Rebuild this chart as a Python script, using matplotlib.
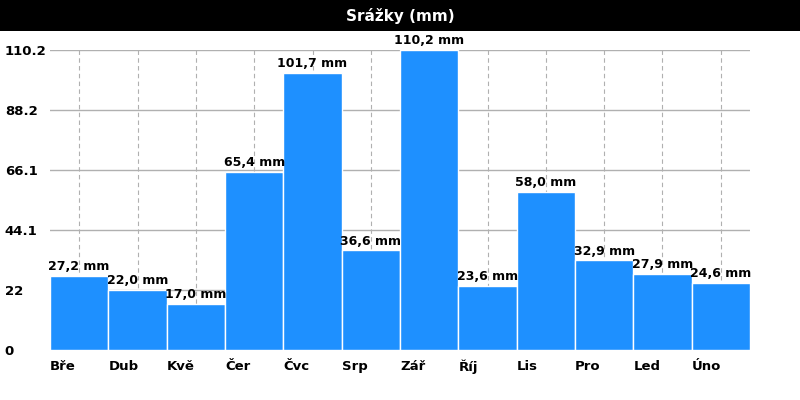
import matplotlib
matplotlib.use("Agg")
import matplotlib.pyplot as plt
from matplotlib.patches import Rectangle

months = ["Bře", "Dub", "Kvě", "Čer", "Čvc", "Srp", "Zář", "Říj", "Lis", "Pro", "Led", "Úno"]
values = [27.2, 22.0, 17.0, 65.4, 101.7, 36.6, 110.2, 23.6, 58.0, 32.9, 27.9, 24.6]
yticks = [0, 22.04, 44.08, 66.12, 88.16, 110.2]
ytick_labels = ["0", "22", "44.1", "66.1", "88.2", "110.2"]

fig = plt.figure(figsize=(8, 4), dpi=100)
fig.patches.append(Rectangle((0, 1 - 31/400), 1, 31/400, transform=fig.transFigure,
                             facecolor="black", edgecolor="none", zorder=0))
fig.text(0.5, 1 - 16/400, "Srážky (mm)", color="white", fontsize=11, fontweight="bold",
         ha="center", va="center")

ax = fig.add_axes([50/800, 50/400, 700/800, 300/400])
x = list(range(len(values)))
ax.bar(x, values, width=1.0, color="#1E90FF", edgecolor="white", linewidth=1, zorder=2)
ax.set_xlim(-0.5, len(values) - 0.5)
ax.set_ylim(0, 110.2)

for xi, v in zip(x, values):
    ax.text(xi, v + 1.0, f"{v:.1f}".replace(".", ",") + " mm", ha="center", va="bottom",
            fontsize=9, fontweight="bold", clip_on=False, zorder=3)

ax.set_yticks(yticks)
ax.set_yticklabels(ytick_labels, fontsize=9.5, fontweight="bold", ha="left")
ax.tick_params(axis="y", length=0, pad=32.5)
ax.grid(axis="y", color="#b0b0b0", linewidth=1, linestyle="-", zorder=0)

ax.set_xticks([i - 0.5 for i in x])
ax.set_xticklabels(months, fontsize=9.5, fontweight="bold", ha="left")
ax.set_xticks(x, minor=True)
ax.tick_params(axis="x", which="major", length=0, pad=7)
ax.tick_params(axis="x", which="minor", length=0)
ax.xaxis.grid(True, which="minor", color="#b0b0b0", linestyle=(0, (4, 3)), linewidth=0.8)
ax.xaxis.grid(False, which="major")
ax.set_axisbelow(True)
for s in ax.spines.values():
    s.set_visible(False)

fig.savefig("out.png", dpi=100)
